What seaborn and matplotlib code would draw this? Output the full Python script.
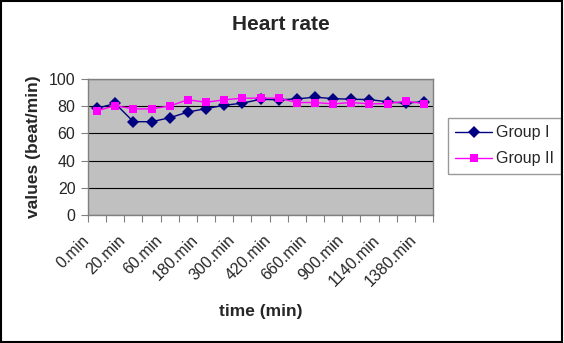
import matplotlib
matplotlib.use("Agg")
import matplotlib.pyplot as plt
import matplotlib.transforms as mtransforms
from matplotlib.lines import Line2D
import seaborn as sns
import pandas as pd
import numpy as np

categories = ["0.min", "10.min", "20.min", "40.min", "60.min", "120.min", "180.min",
              "240.min", "300.min", "360.min", "420.min", "540.min", "660.min",
              "780.min", "900.min", "1020.min", "1140.min", "1260.min", "1380.min"]
group1 = [78.5, 82.0, 68.6, 68.6, 71.5, 75.7, 78.2, 80.7, 82.2, 85.1, 84.7, 85.4,
          86.6, 85.6, 85.1, 84.9, 83.2, 82.2, 83.4]
group2 = [76.7, 80.4, 78.0, 78.0, 80.2, 84.7, 82.9, 84.7, 85.9, 85.9, 85.9, 82.7,
          82.7, 81.7, 82.7, 81.7, 81.9, 83.7, 81.9]
series_names = ["Group I", "Group II"]
colors = {"Group I": "#000080", "Group II": "#FF00FF"}
markers = {"Group I": "D", "Group II": "s"}

sns.set_style("white")
plt.rcParams['font.family'] = ['Liberation Sans', 'DejaVu Sans']

df = pd.DataFrame({
    "idx": list(range(len(categories))) * 2,
    "value": group1 + group2,
    "group": [series_names[0]] * len(categories) + [series_names[1]] * len(categories),
})

fig = plt.figure(figsize=(5.64, 3.43), dpi=100)
ax = fig.add_axes([88/564, 1 - 215/343, (433-88)/564, (215-79)/343])
ax.set_facecolor("#C0C0C0")

sns.lineplot(data=df, x="idx", y="value", hue="group", style="group",
             palette=colors, markers=markers, dashes=False,
             markersize=6, linewidth=1.0, markeredgewidth=0, ax=ax, legend=False)

ax.set_xlim(-0.5, len(categories) - 0.5)
ax.set_ylim(0, 100)
ax.set_yticks([0, 20, 40, 60, 80, 100])
ax.yaxis.grid(True, color="#000000", linewidth=0.8)
ax.set_axisbelow(True)

ax.tick_params(axis="x", which="minor", length=0, pad=12.5)
ax.tick_params(axis="x", which="major", length=5, color="#808080", direction="out", bottom=True)
ax.tick_params(axis="y", length=5, color="#808080", labelsize=11.5, direction="out", pad=4, left=True)

ax.set_xticks(np.arange(-0.5, len(categories), 1.0), minor=False)
ax.set_xticklabels([])
ax.set_xticks(np.arange(0, len(categories), 2), minor=True)
ax.set_xticklabels([categories[i] for i in range(0, len(categories), 2)], minor=True,
                   rotation=45, ha="right", va="top", rotation_mode="anchor", fontsize=11.5)
shift = mtransforms.ScaledTranslation(-15.5/100, 0, fig.dpi_scale_trans)
for lab in ax.get_xticklabels(minor=True):
    lab.set_transform(lab.get_transform() + shift)

for side in ["top", "right", "left", "bottom"]:
    ax.spines[side].set_color("#808080")
    ax.spines[side].set_linewidth(1.0)

ax.set_ylabel("values (beat/min)", fontsize=12.5, fontweight="bold", labelpad=6)
ax.set_xlabel("time (min)", fontsize=12.5, fontweight="bold")
ax.xaxis.set_label_coords((261 - 88) / 345, (215 - 312) / 136)
ax.xaxis.label.set_va("center")
fig.text(281/564, 1 - 25/343, "Heart rate", ha="center", va="center",
         fontsize=15, fontweight="bold")

handles = [Line2D([0], [0], color=colors[n], marker=markers[n], markersize=6,
                  markeredgewidth=0, linewidth=1.0) for n in series_names]
leg = ax.legend(handles, series_names, loc="upper left",
                bbox_to_anchor=(448/564, 1 - 118/343), bbox_transform=fig.transFigure,
                frameon=True, fancybox=False, edgecolor="#808080", fontsize=11.5,
                borderpad=0.45, handlelength=2.3, handletextpad=0.25,
                labelspacing=0.7, borderaxespad=0)
leg.get_frame().set_linewidth(1.0)

border = plt.Rectangle((0.002, 0.003), 0.994, 0.994, transform=fig.transFigure,
                       fill=False, edgecolor="black", linewidth=1.5)
fig.patches.append(border)

fig.savefig("out.png", dpi=100)
